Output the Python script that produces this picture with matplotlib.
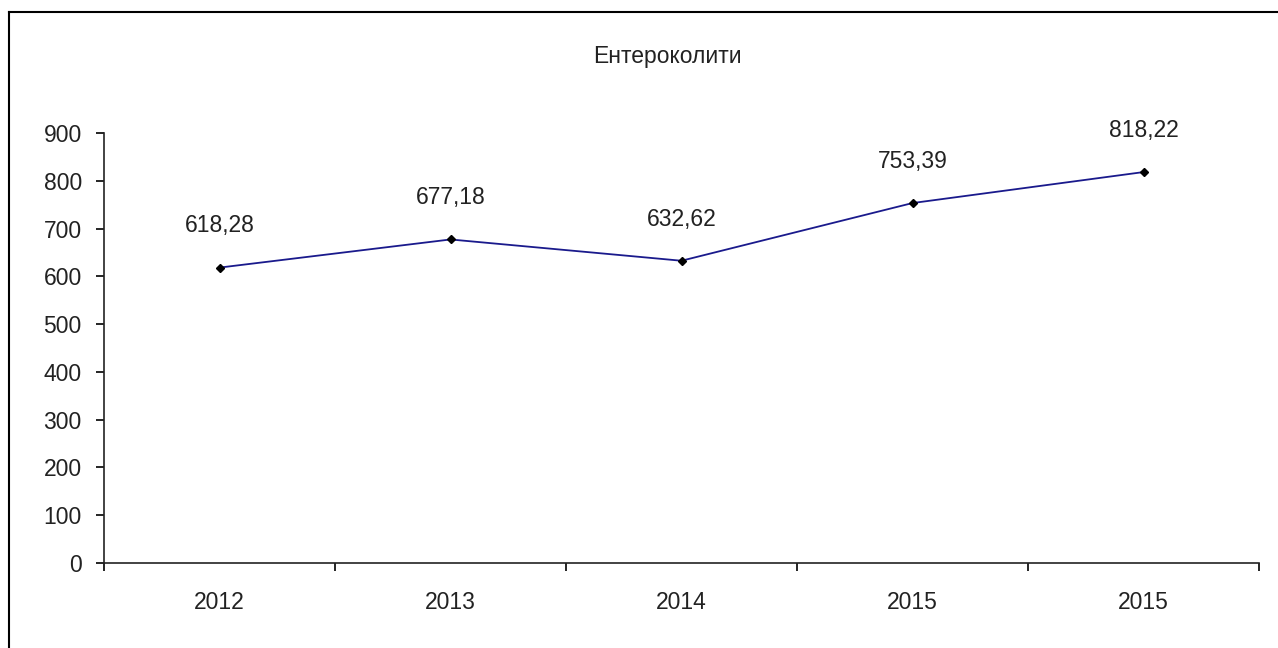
import matplotlib.pyplot as plt
from matplotlib.lines import Line2D

plt.rcParams['font.family'] = ['Liberation Sans', 'DejaVu Sans']

# Data
years = ["2012", "2013", "2014", "2015", "2015"]
values = [618.28, 677.18, 632.62, 753.39, 818.22]
labels = ["618,28", "677,18", "632,62", "753,39", "818,22"]
yticks = [0, 100, 200, 300, 400, 500, 600, 700, 800, 900]

fs = 16.5
tc = "#222222"

fig = plt.figure(figsize=(12.78, 6.48), dpi=100)
ax = fig.add_axes([104 / 1278, 1 - 563 / 648, 1155 / 1278, 430 / 648])

x = list(range(len(values)))
ax.plot(x, values, color="#1a1a8c", lw=1.3, marker="D", markersize=3.8,
        markerfacecolor="black", markeredgecolor="black", zorder=3)

for xi, v, lab in zip(x, values, labels):
    ax.annotate(lab, (xi, v), xytext=(0, 30), textcoords="offset points",
                ha="center", va="center", fontsize=fs, color=tc)

ax.set_xlim(-0.5, len(values) - 0.5)
ax.set_ylim(0, 900)
ax.set_yticks(yticks)
ax.set_yticklabels([str(t) for t in yticks], fontsize=fs, color=tc)
ax.set_xticks(x)
ax.set_xticklabels(years, fontsize=fs, color=tc)
ax.set_xticks([i - 0.5 for i in range(len(values) + 1)], minor=True)
ax.tick_params(axis="x", which="major", length=0, pad=20)
ax.tick_params(axis="x", which="minor", length=6, direction="out", width=1.2)
ax.tick_params(axis="y", length=6, direction="out", width=1.2, pad=10)

for s in ["top", "right"]:
    ax.spines[s].set_visible(False)
for s in ["left", "bottom"]:
    ax.spines[s].set_color(tc)
    ax.spines[s].set_linewidth(1.2)

fig.text(0.522, 1 - 56 / 648, "Ентероколити", ha="center", va="center",
         fontsize=fs, color=tc)

# chart frame (left and top edges visible)
fig.add_artist(Line2D([9 / 1278, 9 / 1278], [0, 1 - 12 / 648], transform=fig.transFigure,
                      color="black", lw=1.5))
fig.add_artist(Line2D([9 / 1278, 1], [1 - 12 / 648, 1 - 12 / 648], transform=fig.transFigure,
                      color="black", lw=1.5))

fig.savefig("out.png", dpi=100)
